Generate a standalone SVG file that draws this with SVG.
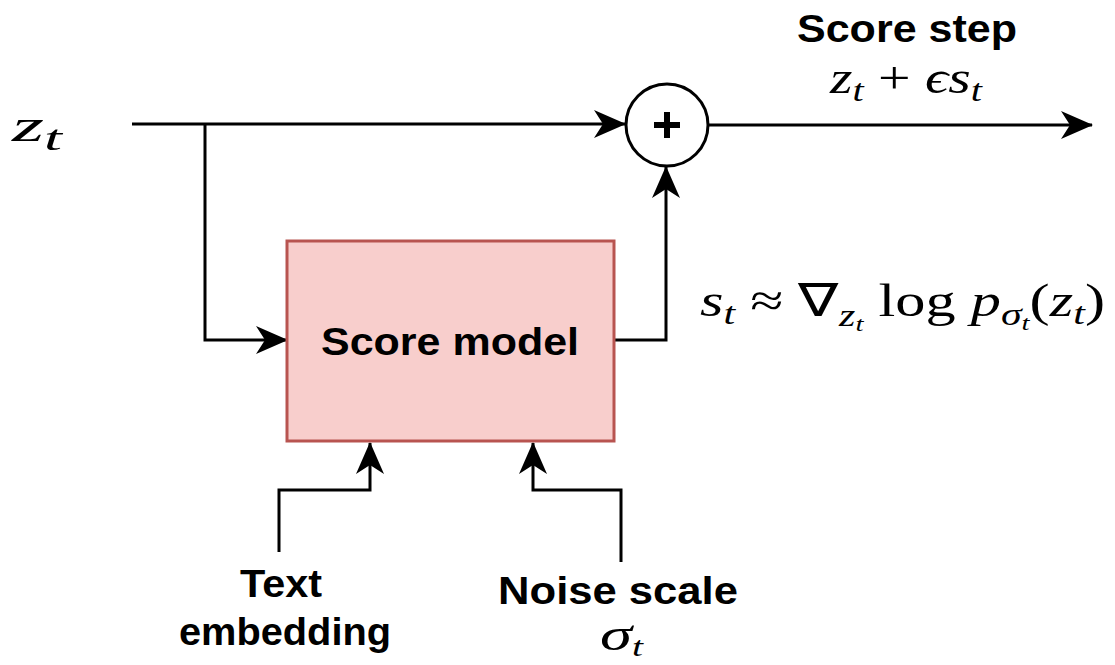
<svg xmlns="http://www.w3.org/2000/svg" width="1115" height="665" viewBox="0 0 1115 665">
<style>
.ln{fill:none;stroke:#000;stroke-width:3}
.lbl{font-family:"Liberation Sans",Arial,sans-serif;font-weight:bold;font-size:38px;fill:#000;text-anchor:middle}
.m{font-family:"Liberation Serif","Times New Roman",serif;font-style:italic;font-size:46px;fill:#000}
.r{font-style:normal}
.sub{font-size:32px}
.ss{font-size:22px}
</style>
<defs>
<marker id="ah" viewBox="0 0 32 32" refX="31" refY="16" markerWidth="32" markerHeight="32" markerUnits="userSpaceOnUse" orient="auto">
<path d="M0,2 L32,16 L0,30 L9,16 Z" fill="#000"/>
</marker>
</defs>
<rect width="1115" height="665" fill="#fff"/>
<g id="connectors">
<path class="ln" d="M132,124 L625,124" marker-end="url(#ah)"/>
<path class="ln" d="M205,124 L205,340 L287,340" marker-end="url(#ah)"/>
<path class="ln" d="M614,340 L666,340 L666,167" marker-end="url(#ah)"/>
<path class="ln" d="M708,125 L1092,125" marker-end="url(#ah)"/>
<path class="ln" d="M279,552 L279,490 L370,490 L370,443" marker-end="url(#ah)"/>
<path class="ln" d="M621,562 L621,490 L533,490 L533,443" marker-end="url(#ah)"/>
</g>
<g id="zt">
<text class="m" x="12" y="141" font-size="54" textLength="50" lengthAdjust="spacingAndGlyphs">z<tspan font-size="36" dy="9">t</tspan></text>
</g>
<g id="sum">
<circle cx="667" cy="125" r="41" fill="#fff" stroke="#000" stroke-width="3"/>
<path d="M667,112 V138 M654,125 H680" stroke="#000" stroke-width="6"/>
</g>
<g id="score-model">
<rect x="287" y="241" width="327" height="200" fill="#f8cecc" stroke="#b85450" stroke-width="3"/>
<text class="lbl" x="450" y="355" textLength="258" lengthAdjust="spacingAndGlyphs">Score model</text>
</g>
<g id="score-step">
<text class="lbl" x="907" y="42" textLength="220" lengthAdjust="spacingAndGlyphs">Score step</text>
<text class="m" x="830" y="93" textLength="152" lengthAdjust="spacingAndGlyphs">z<tspan class="sub" dy="8">t</tspan><tspan dy="-8" class="r"> + </tspan>ϵs<tspan class="sub" dy="8">t</tspan></text>
</g>
<g id="score-formula">
<text class="m" x="700" y="316" textLength="405" lengthAdjust="spacingAndGlyphs">s<tspan class="sub" dy="8">t</tspan><tspan class="r" dy="-8"> ≈ ∇</tspan><tspan class="sub" dy="10">z</tspan><tspan class="ss" dy="5">t</tspan><tspan class="r" dy="-15"> log </tspan>p<tspan class="sub" dy="9">σ</tspan><tspan class="ss" dy="5">t</tspan><tspan class="r" dy="-14">(</tspan>z<tspan class="sub" dy="8">t</tspan><tspan class="r" dy="-8">)</tspan></text>
</g>
<g id="text-embedding">
<text class="lbl" x="281" y="597" textLength="82" lengthAdjust="spacingAndGlyphs">Text</text>
<text class="lbl" x="285" y="645" textLength="212" lengthAdjust="spacingAndGlyphs">embedding</text>
</g>
<g id="noise-scale">
<text class="lbl" x="618" y="604" textLength="240" lengthAdjust="spacingAndGlyphs">Noise scale</text>
<text class="m" x="600" y="650" font-size="40" textLength="43" lengthAdjust="spacingAndGlyphs">σ<tspan font-size="28" dy="6">t</tspan></text>
</g>
</svg>
